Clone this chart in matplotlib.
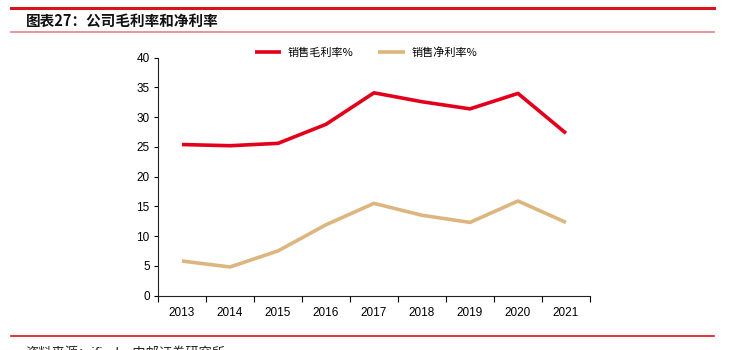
import numpy as np
import matplotlib
matplotlib.use("Agg")
import matplotlib.pyplot as plt
from matplotlib.lines import Line2D

plt.rcParams['font.family'] = ['Liberation Sans', 'Noto Sans CJK SC', 'DejaVu Sans']

years = ['2013', '2014', '2015', '2016', '2017', '2018', '2019', '2020', '2021']
gross_margin = [25.4, 25.2, 25.6, 28.8, 34.1, 32.6, 31.4, 34.0, 27.3]
net_margin = [5.8, 4.8, 7.5, 11.9, 15.5, 13.5, 12.3, 15.9, 12.3]

red = '#E2001A'
tan = '#DDB67F'

fig = plt.figure(figsize=(7.29, 3.5), dpi=100)
ax = fig.add_axes([0.2167, 0.1557, 0.5926, 0.6793])

x = np.arange(len(years))
ax.plot(x, gross_margin, color=red, lw=2.6, solid_capstyle='butt', label='销售毛利率%')
ax.plot(x, net_margin, color=tan, lw=2.6, solid_capstyle='butt', label='销售净利率%')

ax.set_xlim(-0.5, len(years) - 0.5)
ax.set_ylim(0, 40)
ax.set_yticks(range(0, 41, 5))
ax.set_xticks(x)
ax.set_xticklabels(years)
ax.set_xticks(np.arange(-0.5, len(years), 1), minor=True)
ax.tick_params(axis='x', which='major', length=0, pad=8, labelsize=8.5)
ax.tick_params(axis='x', which='minor', length=4, direction='out', width=0.8)
ax.tick_params(axis='y', length=3, direction='out', width=0.8, labelsize=8.5, pad=3)
for s in ['top', 'right']:
    ax.spines[s].set_visible(False)
for s in ['left', 'bottom']:
    ax.spines[s].set_color('#222222')
    ax.spines[s].set_linewidth(0.8)

leg = fig.legend(loc='center', bbox_to_anchor=(0.502, 0.85), ncol=2, frameon=False,
                 handlelength=2.4, columnspacing=2.2, handletextpad=0.6,
                 prop={'family': ['Noto Sans CJK SC'], 'size': 8})

# header / footer decorations
fig.add_artist(Line2D([0.015, 0.98], [0.978, 0.978], color='#D7141C', lw=2.2))
fig.text(0.035, 0.94, '图表27：公司毛利率和净利率', fontsize=10.5, fontweight='bold',
         family=['Noto Sans CJK SC'], va='center', ha='left', color='#111111')
fig.add_artist(Line2D([0.015, 0.98], [0.908, 0.908], color='#E88A90', lw=1.3))
fig.add_artist(Line2D([0.015, 0.98], [0.04, 0.04], color='#D7141C', lw=1.2))
fig.text(0.035, -0.012, '资料来源：ifind，中邮证券研究所', fontsize=9.5,
         family=['Noto Sans CJK SC'], va='center', ha='left', color='#222222')

fig.savefig('out.png', dpi=100)
